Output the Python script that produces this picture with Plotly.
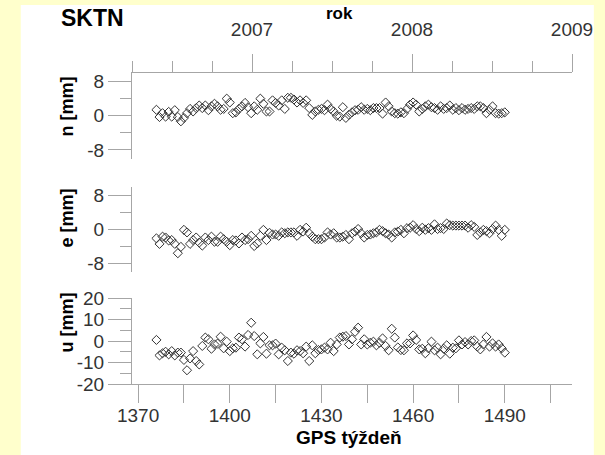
import plotly.graph_objects as go

# ---------------- data ----------------
weeks = list(range(1376, 1491))

n_mm = [1.4, -0.3, 0.6, -0.2, 0.9, -0.2, 1.3, -0.3, -1.3, -0.5,
        0.6, 1.6, 1.0, 1.8, 2.4, 1.8, 2.4, 1.3, 2.2, 2.8,
        2.2, 1.4, 1.6, 4.0, 3.1, 0.6, 0.8, 1.6, 2.2, 3.0,
        2.0, 0.6, 2.2, 1.4, 4.0, 2.8, 1.0, 1.0, 3.6, 3.0,
        2.4, 3.6, 1.6, 4.2, 4.2, 3.8, 3.1, 3.6, 3.0, 3.6,
        1.8, 0.2, 1.0, 1.4, 1.6, 1.3, 2.6, 1.6, 1.0, 0.0,
        -0.2, 2.0, -0.5, 0.2, 0.8, 1.3, 1.4, 2.0, 1.4, 1.6,
        1.3, 1.8, 1.8, 1.8, 0.5, 3.1, 2.2, 1.0, 0.6, 0.5,
        0.8, 0.6, 1.6, 2.6, 3.1, 2.6, 1.0, 1.6, 2.2, 2.6,
        2.0, 1.8, 1.4, 2.2, 1.6, 1.8, 2.4, 1.4, 1.8, 1.3,
        1.8, 1.4, 1.6, 1.8, 1.6, 2.2, 2.2, 1.8, 0.6, 1.4,
        2.2, 0.6, 0.5, 0.6, 0.8]

e_mm = [-2.2, -3.5, -1.8, -2.0, -2.7, -2.6, -3.5, -5.7, -4.2, -0.2,
        -0.8, -3.5, -2.6, -2.0, -3.2, -3.9, -2.0, -2.6, -1.8, -3.0,
        -3.0, -1.8, -2.4, -3.0, -3.8, -2.6, -2.7, -3.4, -2.0, -2.6,
        -2.4, -1.6, -4.0, -3.4, -1.6, -0.2, -2.6, -0.9, -1.3, -1.3,
        -1.6, -0.8, -1.0, -0.8, -0.8, -0.8, -1.6, -0.2, -0.6, 0.3,
        -1.0, -1.8, -2.4, -2.4, -2.4, -2.0, -0.8, -1.3, -1.0, -2.0,
        -2.0, -1.8, -1.4, -2.4, -1.0, -0.6, 0.0, -1.0, -2.0, -1.4,
        -1.3, -1.0, -0.8, -0.2, -0.5, -1.0, -1.3, -2.0, -0.8, -0.6,
        -0.2, -1.0, 0.2, 0.3, 0.9, 0.0, -0.5, 0.3, -0.2, 0.2,
        -0.2, 1.1, 0.0, 0.2, 0.0, 1.3, 0.9, 0.8, 0.8, 0.8,
        0.8, 0.8, 0.3, 0.9, 0.5, -1.4, -0.8, -0.2, -0.5, -1.0,
        0.0, 0.8, -0.2, -1.6, -0.2]

u_mm = [0.5, -6.7, -5.7, -5.0, -6.2, -4.7, -6.7, -5.4, -5.4, -8.8,
        -13.6, -8.1, -4.7, -9.3, -10.9, -2.3, 1.6, 0.8, -3.6, -1.6,
        -1.2, 2.0, -3.4, -0.3, -4.7, -3.4, -3.1, 1.6, 0.8, -2.6,
        2.8, 8.5, 2.3, -6.2, -1.1, 1.9, -5.9, -2.0, -2.0, -1.2,
        -6.2, -3.1, -4.3, -9.3, -5.4, -5.9, -4.3, -4.7, -5.7, -2.6,
        -9.3, -2.0, -5.7, -4.2, -3.9, -3.1, -3.9, -0.8, -4.7, -1.6,
        1.6, 2.0, 2.3, -1.6, 0.8, 4.3, 6.2, -1.6, 0.8, -1.6,
        -0.8, -0.3, -2.0, -0.8, 1.2, -2.3, -4.3, 5.7, 1.6, -3.0,
        -4.2, -4.3, -1.1, -1.1, 2.6, 0.5, -3.9, -3.6, -5.7, -3.4,
        -0.3, -4.3, -3.1, -6.2, -3.6, -2.0, -5.9, -3.1, -3.4, 0.3,
        -1.6, -0.5, -1.6, 0.0, 0.3, -2.6, -3.9, -1.6, 1.9, -2.6,
        -1.1, -2.6, -1.6, -3.4, -5.4]

week_ticks = [1370, 1400, 1430, 1460, 1490]
year_ticks = [2007, 2008, 2009]
nu_ticks = [-8, 0, 8]
nu_labels = ["-8", "0", "8"]
u_ticks = [-20, -10, 0, 10, 20]
u_labels = ["-20", "-10", "0", "10", "20"]

# ---------------- layout geometry (screen pixels) ----------------
W, H = 605, 455
L, R, T, B = 132, 575, 73, 384
PW, PH = R - L, B - T


def px(x):
    return (x - L) / PW


def py(y):
    return (B - y) / PH


AXC = "#a6a6a6"
TXC = "#333333"
FONT = "Liberation Sans, Arial, sans-serif"

marker = dict(symbol="diamond-open", size=7, color="#333333", line=dict(width=1))

fig = go.Figure()
fig.add_trace(go.Scatter(x=weeks, y=n_mm, mode="markers", marker=marker, xaxis="x", yaxis="y", showlegend=False))
fig.add_trace(go.Scatter(x=weeks, y=e_mm, mode="markers", marker=marker, xaxis="x2", yaxis="y2", showlegend=False))
fig.add_trace(go.Scatter(x=weeks, y=u_mm, mode="markers", marker=marker, xaxis="x3", yaxis="y3", showlegend=False))
# invisible traces to activate the helper axes
fig.add_trace(go.Scatter(x=[2007], y=[0], mode="markers", marker=dict(opacity=0), xaxis="x4", yaxis="y",
                         showlegend=False, hoverinfo="skip"))
fig.add_trace(go.Scatter(x=[1400], y=[0], mode="markers", marker=dict(opacity=0), xaxis="x5", yaxis="y3",
                         showlegend=False, hoverinfo="skip"))

xr = [1368, 1512]
tickfont = dict(family=FONT, size=19, color=TXC)

hidden_x = dict(range=xr, showline=False, showgrid=False, zeroline=False, showticklabels=False, ticks="")

yaxis_common = dict(showline=True, linecolor=AXC, linewidth=1, showgrid=False, zeroline=False,
                    ticks="outside", ticklen=23, tickcolor=AXC, tickwidth=1, tickfont=tickfont)

fig.update_layout(
    width=W, height=H,
    margin=dict(l=L, r=W - R, t=T, b=H - B),
    paper_bgcolor="#FFFFCC",
    plot_bgcolor="white",
    xaxis=dict(domain=[0, 1], anchor="y", **hidden_x),
    xaxis2=dict(domain=[0, 1], anchor="y2", **hidden_x),
    # bottom week axis: labels only
    xaxis3=dict(domain=[0, 1], anchor="y3", range=xr, showline=True, linecolor=AXC, linewidth=1,
                showgrid=False, zeroline=False, ticks="", tickvals=week_ticks, tickfont=tickfont,
                ticklabelstandoff=14),
    # bottom week axis: tick marks every 15 weeks
    xaxis5=dict(overlaying="x3", side="bottom", anchor="y3", range=xr, showline=False, showgrid=False,
                zeroline=False, showticklabels=False, ticks="outside", ticklen=18, tickcolor=AXC,
                tick0=1370, dtick=15),
    xaxis4=dict(overlaying="x", side="top", anchor="y", range=[2006.25, 2009], showline=True,
                linecolor=AXC, linewidth=1, showgrid=False, zeroline=False, ticks="outside",
                ticklen=18, tickcolor=AXC, tickvals=year_ticks, tickfont=tickfont, ticklabelstandoff=10,
                minor=dict(ticks="outside", ticklen=11, tickcolor=AXC, tick0=2006.25, dtick=0.25, showgrid=False)),
    yaxis=dict(domain=[py(158.5), 1.0], anchor="x", range=[-10, 10], tickvals=nu_ticks, ticktext=nu_labels,
               minor=dict(ticks="outside", ticklen=11, tickcolor=AXC, tick0=0, dtick=4, showgrid=False),
               **yaxis_common),
    yaxis2=dict(domain=[py(271.5), py(186.5)], anchor="x2", range=[-10, 10], tickvals=nu_ticks,
                ticktext=nu_labels,
                minor=dict(ticks="outside", ticklen=11, tickcolor=AXC, tick0=0, dtick=4, showgrid=False),
                **yaxis_common),
    yaxis3=dict(domain=[0, py(298)], anchor="x3", range=[-20, 20], tickvals=u_ticks, ticktext=u_labels,
                minor=dict(ticks="outside", ticklen=11, tickcolor=AXC, tick0=0, dtick=5, showgrid=False),
                **yaxis_common),
    shapes=[dict(type="rect", xref="paper", yref="paper", x0=px(20), x1=px(597), y0=py(470), y1=py(5),
                 fillcolor="white", line=dict(width=0), layer="below")],
    annotations=[
        dict(text="<b>SKTN</b>", x=px(92), y=py(18), font=dict(family=FONT, size=23, color="black")),
        dict(text="<b>rok</b>", x=px(341), y=py(14), font=dict(family=FONT, size=17, color="black")),
        dict(text="<b>GPS týždeň</b>", x=px(350), y=py(437), font=dict(family=FONT, size=19, color="black")),
        dict(text="<b>n [mm]</b>", x=px(67), y=py(106), textangle=-90,
             font=dict(family=FONT, size=18, color="black")),
        dict(text="<b>e [mm]</b>", x=px(67), y=py(218), textangle=-90,
             font=dict(family=FONT, size=18, color="black")),
        dict(text="<b>u [mm]</b>", x=px(67), y=py(322), textangle=-90,
             font=dict(family=FONT, size=18, color="black")),
    ],
)
fig.update_annotations(xref="paper", yref="paper", showarrow=False, xanchor="center", yanchor="middle")

fig.write_html("out.html", config={"displayModeBar": False},
               post_script="document.body.style.margin='0px';")
